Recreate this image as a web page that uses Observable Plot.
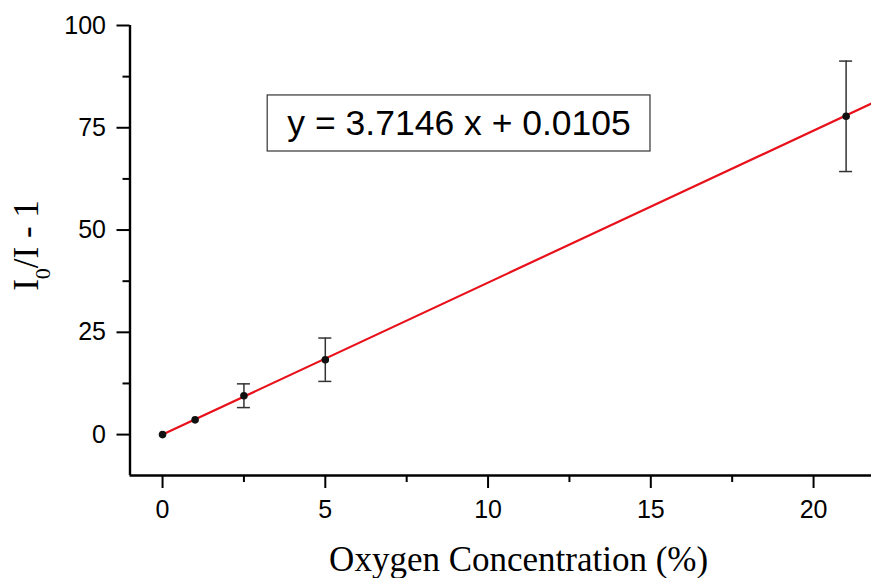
<!DOCTYPE html>
<html><head><meta charset="utf-8">
<script src="https://cdn.jsdelivr.net/npm/d3@7"></script>
<script src="https://cdn.jsdelivr.net/npm/@observablehq/plot@0.6"></script>
<style>body{margin:0;background:#fff;}</style>
</head><body><div id="chart"></div>
<script>
// ---- data ----
const concentration = [0, 1, 2.5, 5, 21];
const intensityRatio = [0, 3.6, 9.5, 18.3, 77.8];
const errorBar = [0, 0, 2.9, 5.3, 13.5];
const fitSlope = 3.7146;
const fitIntercept = 0.0105;
const xTicks = [0, 5, 10, 15, 20];
const xMinorTicks = [2.5, 7.5, 12.5, 17.5];
const yTicks = [0, 25, 50, 75, 100];
const yMinorTicks = [12.5, 37.5, 62.5, 87.5];
const xLabel = "Oxygen Concentration (%)";
const yLabelMain = "I";
const yLabelSub = "0";
const yLabelRest = "/I - 1";
const equationText = "y = 3.7146 x + 0.0105";

// ---- layout ----
const xDomain = [-1, 21.78];
const yDomain = [-10, 100];
const box = {x1: 3.23, x2: 14.99, y1: 69.2, y2: 82.9};
const capHalf = 0.2;
const xLabelAt = 10.94;

const points = concentration.map((x, i) => ({x, y: intensityRatio[i], e: errorBar[i]}));
const bars = points.filter(d => d.e > 0);
const fit = [0, xDomain[1]].map(x => ({x, y: fitSlope * x + fitIntercept}));
const yLabelFull = yLabelMain + yLabelSub + yLabelRest;

const sans = "'Liberation Sans', Arial, sans-serif";
const serif = "'Liberation Serif', 'Times New Roman', serif";

const chart = Plot.plot({
  width: 871, height: 578,
  marginLeft: 129.5, marginRight: 0, marginTop: 25, marginBottom: 103,
  x: {domain: xDomain},
  y: {domain: yDomain},
  style: {fontFamily: sans, fontSize: "25px", background: "white", color: "black", overflow: "visible"},
  marks: [
    Plot.axisX(xTicks, {tickSize: 13, tickPadding: 12, fontSize: 25, label: null}),
    Plot.axisX(xMinorTicks, {tickSize: 7, text: null, label: null}),
    Plot.axisY(yTicks, {tickSize: 13, tickPadding: 11, fontSize: 25, label: null}),
    Plot.axisY(yMinorTicks, {tickSize: 7, text: null, label: null}),
    Plot.ruleY([yDomain[0]], {strokeWidth: 2.4, stroke: "black"}),
    Plot.ruleX([xDomain[0]], {strokeWidth: 2.4, stroke: "black"}),
    Plot.rect([box], {x1: "x1", x2: "x2", y1: "y1", y2: "y2", fill: "white", stroke: "#333", strokeWidth: 1.2}),
    Plot.text([equationText], {x: () => (box.x1 + box.x2) / 2, y: () => (box.y1 + box.y2) / 2, text: d => d,
      fontSize: 35.5, fontFamily: sans, fill: "black", textAnchor: "middle", lineAnchor: "middle"}),
    Plot.line(fit, {x: "x", y: "y", stroke: "#e8101a", strokeWidth: 2.2}),
    Plot.ruleX(bars, {x: "x", y1: d => d.y - d.e, y2: d => d.y + d.e, stroke: "#333", strokeWidth: 1.5}),
    Plot.ruleY(bars, {y: d => d.y - d.e, x1: d => d.x - capHalf, x2: d => d.x + capHalf, stroke: "#333", strokeWidth: 1.5}),
    Plot.ruleY(bars, {y: d => d.y + d.e, x1: d => d.x - capHalf, x2: d => d.x + capHalf, stroke: "#333", strokeWidth: 1.5}),
    Plot.dot(points, {x: "x", y: "y", r: 3.8, fill: "#111", stroke: "none"}),
    Plot.text([xLabel], {x: () => xLabelAt, frameAnchor: "bottom", dy: 95, lineAnchor: "bottom", text: d => d,
      fontSize: 35, fontFamily: serif, fill: "black", textAnchor: "middle"}),
    Plot.text([yLabelFull], {frameAnchor: "left", dx: -92.5, dy: -5, rotate: -90, lineAnchor: "bottom", text: d => d,
      fontSize: 35, fontFamily: serif, fill: "black", textAnchor: "middle"})
  ]
});
document.getElementById("chart").appendChild(chart);

const svg = d3.select(chart);
// thicker tick marks and larger tick labels
svg.selectAll('g[aria-label$="axis tick"]').attr("stroke-width", 2).selectAll("path").attr("stroke-width", 2);
svg.selectAll('g[aria-label$="axis tick label"]').attr("font-size", 25).selectAll("text").attr("font-size", 25);

// subscript for the y label
svg.selectAll("text").each(function() {
  if (this.textContent === yLabelFull && this.childElementCount === 0) {
    const t = d3.select(this);
    t.text(null);
    t.append("tspan").text(yLabelMain);
    t.append("tspan").attr("font-size", 22).attr("dy", 12).text(yLabelSub);
    t.append("tspan").attr("dy", -12).text(yLabelRest);
  }
});
</script>
</body></html>
